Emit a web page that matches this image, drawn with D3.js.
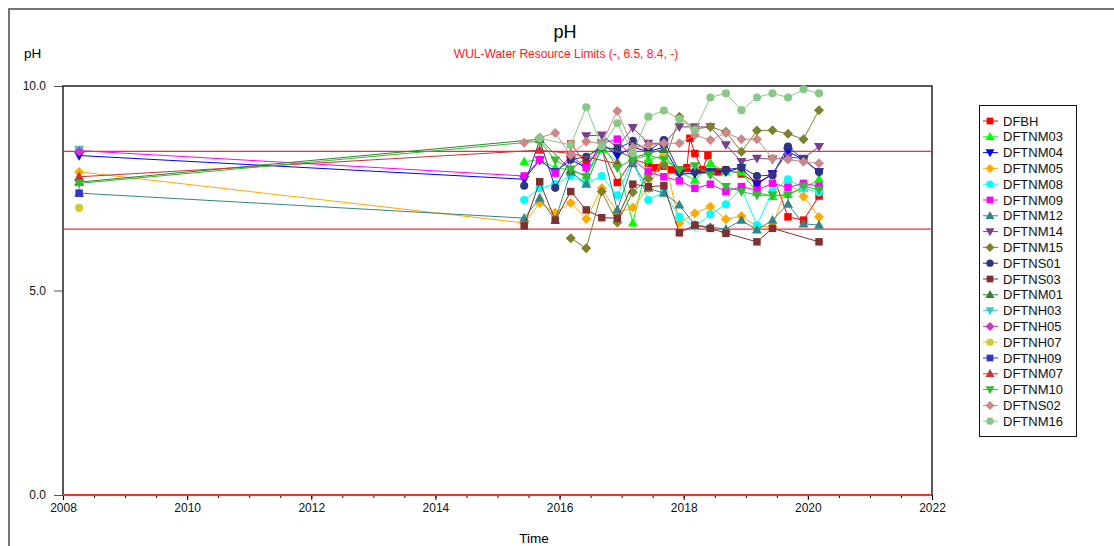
<!DOCTYPE html>
<html>
<head>
<meta charset="utf-8">
<script src="https://cdn.jsdelivr.net/npm/d3@7"></script>
<style>
  body { margin: 0; background: #fff; }
  svg { font-family: "Liberation Sans", Arial, sans-serif; }
</style>
</head>
<body>
<svg id="chart" width="1114" height="546"></svg>
<script>
// sample dates (decimal years): one 2008 sample, then quarterly from mid 2015
const dates = [2008.26, 2015.43, 2015.68, 2015.93, 2016.18, 2016.43, 2016.68, 2016.93, 2017.18, 2017.43, 2017.68,
  2017.93, 2018.18, 2018.43, 2018.68, 2018.93, 2019.18, 2019.43, 2019.68, 2019.93, 2020.18]

// DFBH was sampled more often, so it keeps its own dates
const dfbhDates = [2016.18, 2016.43, 2016.68, 2016.93, 2017.18, 2017.43, 2017.55, 2017.68, 2017.8, 2017.93, 2018.05,
  2018.1, 2018.18, 2018.3, 2018.39, 2018.55, 2018.68, 2018.93, 2019.18, 2019.43, 2019.68, 2019.93, 2020.18]
const DFBH = [8.58, 8.1, 8.45, 7.64, 8.2, 8.1, 8.0, 8.04, 7.95, 7.95, 8.0, 8.72, 8.35, 7.95, 8.3, 7.9, 7.95, 7.85, 7.62,
  7.85, 6.8, 6.72, 7.31]

const DFTNM03 = [null, 8.15, 8.2, 8.0, 7.95, 7.8, 8.45, 8.15, 6.65, 8.2, 8.3, 7.9, 7.7, 8.11, 7.9, 7.9, 7.4, 7.3, 7.35, 7.5, 7.72]
const DFTNM04 = [8.3, 7.72, 8.19, 7.9, 8.2, 8.0, 8.6, 8.3, 8.5, 8.4, 8.5, 7.85, 7.86, 7.9, 7.9, 8.0, 7.6, 7.85, 8.4, 8.2, 7.9]
const DFTNM05 = [7.9, 6.65, 7.14, 6.9, 7.14, 6.75, 7.5, 6.9, 7.03, 7.5, 8.31, 6.65, 6.89, 7.05, 6.74, 6.82, 6.56, 6.56, 7.65, 7.3, 6.8]
const DFTNM08 = [null, 7.21, 7.5, 7.6, 7.8, 7.62, 7.8, 7.33, 8.2, 7.21, 7.4, 6.8, 6.56, 6.86, 7.11, 7.5, 6.6, 7.42, 7.72, 7.5, 7.4]
const DFTNM09 = [8.42, 7.8, 8.2, 7.87, 8.3, 8.0, 8.6, 8.7, 8.2, 7.9, 7.78, 7.68, 7.5, 7.6, 7.42, 7.54, 7.45, 7.62, 7.52, 7.62, 7.55]
const DFTNM12 = [7.38, 6.77, 7.26, 6.72, 7.9, 7.6, 8.5, 6.97, 8.1, 7.5, 7.38, 7.09, 6.6, 6.55, 6.5, 6.72, 6.48, 6.72, 7.11, 6.63, 6.6]
const DFTNM14 = [null, null, null, null, null, 8.78, 8.8, 8.5, 8.98, 8.6, 8.6, 9.0, 9.0, 9.0, 8.56, 8.15, 8.23, 8.21, 8.26, 8.23, 8.52]
const DFTNM15 = [null, null, null, null, 6.28, 6.03, 7.42, 6.66, 7.4, 7.74, 8.07, 9.25, 8.95, 9.0, 8.88, 8.39, 8.91, 8.92, 8.83, 8.7, 9.41]
const DFTNS01 = [null, 7.56, 8.68, 7.51, 8.2, 8.27, 8.5, 8.46, 8.66, 8.4, 8.68, 7.9, 7.9, 7.9, 7.95, 8.01, 7.8, 7.82, 8.52, 8.2, 7.9]
const DFTNS03 = [null, 6.58, 7.66, 6.72, 7.42, 6.97, 6.78, 6.77, 7.6, 7.54, 7.56, 6.41, 6.6, 6.52, 6.4, null, 6.19, 6.52, null, null, 6.19]
const DFTNM01 = [7.65, null, 8.7, null, 7.95, null, 8.55, null, 8.25, null, 8.45, null, null, null, null, null, null, null, null, null, null]
const DFTNH03 = [8.45, null, null, null, null, null, null, null, null, null, null, null, null, null, null, null, null, null, null, null, null]
const DFTNH05 = [8.4, null, null, null, null, null, null, null, null, null, null, null, null, null, null, null, null, null, null, null, null]
const DFTNH07 = [7.02, null, null, null, null, null, null, null, null, null, null, null, null, null, null, null, null, null, null, null, null]
const DFTNH09 = [7.38, null, null, null, null, null, null, null, null, null, null, null, null, null, null, null, null, null, null, null, null]
const DFTNM07 = [7.78, null, 8.43, null, 8.35, null, null, 8.1, null, null, null, null, null, null, null, null, null, null, null, null, null]
const DFTNM10 = [7.62, null, 8.65, 8.19, 7.97, 7.78, 8.6, 8.0, 8.2, 8.31, 8.2, 7.95, 8.05, 7.82, 7.54, 7.42, 7.33, 7.33, 7.33, 7.55, 7.46]
const DFTNS02 = [null, 8.61, 8.74, 8.85, 8.31, 8.64, 8.6, 9.39, 8.5, 8.55, 8.6, 8.6, 8.8, 8.68, 8.85, 8.7, 8.7, 8.23, 8.2, 8.15, 8.11]
const DFTNM16 = [null, null, 8.72, null, 8.56, 9.48, 8.52, 9.09, 8.36, 9.25, 9.4, 9.19, 8.92, 9.72, 9.82, 9.41, 9.72, 9.82, 9.72, 9.92, 9.82]

const seriesNames = ['DFBH', 'DFTNM03', 'DFTNM04', 'DFTNM05', 'DFTNM08', 'DFTNM09', 'DFTNM12', 'DFTNM14', 'DFTNM15',
  'DFTNS01', 'DFTNS03', 'DFTNM01', 'DFTNH03', 'DFTNH05', 'DFTNH07', 'DFTNH09', 'DFTNM07', 'DFTNM10', 'DFTNS02', 'DFTNM16']
const seriesColors = ['#ff0000', '#00ff00', '#0000ff', '#ffaa00', '#00ffff', '#ff00ff', '#358585', '#7a3f8a', '#7f7f2e',
  '#2e3580', '#803030', '#338033', '#33cccc', '#cc33cc', '#cccc33', '#3333cc', '#cc3333', '#33bb33', '#cc8888', '#88c888']
const seriesValues = [DFBH, DFTNM03, DFTNM04, DFTNM05, DFTNM08, DFTNM09, DFTNM12, DFTNM14, DFTNM15, DFTNS01, DFTNS03,
  DFTNM01, DFTNH03, DFTNH05, DFTNH07, DFTNH09, DFTNM07, DFTNM10, DFTNS02, DFTNM16]

const limits = [0, 6.5, 8.4]
const xTicks = [2008, 2010, 2012, 2014, 2016, 2018, 2020, 2022]
const yTicks = [0, 5, 10]

// marker shapes repeat every 5 series
const shapes = ['square', 'up', 'down', 'diamond', 'circle']

var svg = d3.select('#chart')
var plotLeft = 63, plotRight = 932, plotTop = 86, plotBottom = 495

var x = d3.scaleLinear().domain([2008, 2022]).range([plotLeft, plotRight])
var y = d3.scaleLinear().domain([0, 10]).range([plotBottom, plotTop])

var series = seriesNames.map((name, i) => {
  var ds = name === 'DFBH' ? dfbhDates : dates
  var pts = seriesValues[i].map((v, j) => ({ t: ds[j], v: v })).filter((d) => d.v != null)
  return { name: name, color: seriesColors[i], shape: shapes[i % 5], points: pts }
})

function symbolPath(shape) {
  if (shape === 'square') return d3.symbol(d3.symbolSquare, 56)()
  if (shape === 'circle') return d3.symbol(d3.symbolCircle, 52)()
  if (shape === 'diamond') return 'M0,-5L5,0L0,5L-5,0Z'
  if (shape === 'up') return 'M0,-5.2L5,3.6L-5,3.6Z'
  return 'M0,5.2L5,-3.6L-5,-3.6Z'
}

// page frame (left and top edges only are in view)
svg.append('path')
  .attr('d', 'M9,546V9H1114')
  .attr('fill', 'none')
  .attr('stroke', '#777')
  .attr('stroke-width', 2)

svg.append('text')
  .attr('x', 565).attr('y', 38)
  .attr('text-anchor', 'middle')
  .style('font-size', '18px')
  .text('pH')

svg.append('text')
  .attr('x', 566).attr('y', 58)
  .attr('text-anchor', 'middle')
  .style('font-size', '12px')
  .attr('fill', '#ff2020')
  .text('WUL-Water Resource Limits (-, 6.5, 8.4, -)')

svg.append('text')
  .attr('x', 24).attr('y', 58)
  .style('font-size', '13.5px')
  .text('pH')

svg.append('text')
  .attr('x', 534).attr('y', 543)
  .attr('text-anchor', 'middle')
  .style('font-size', '13.5px')
  .text('Time')

// axes
var minor = svg.append('g')
  .attr('transform', `translate(0,${plotBottom})`)
  .call(d3.axisBottom(x).tickValues(d3.range(2008.5, 2022, 0.5)).tickSize(3).tickFormat(''))
minor.select('.domain').remove()

var xAxis = svg.append('g')
  .attr('transform', `translate(0,${plotBottom})`)
  .call(d3.axisBottom(x).tickValues(xTicks).tickSize(5).tickPadding(3).tickFormat(d3.format('d')))
xAxis.select('.domain').remove()
xAxis.selectAll('text').style('font-size', '12px').attr('fill', '#111')

var yAxis = svg.append('g')
  .attr('transform', `translate(${plotLeft},0)`)
  .call(d3.axisLeft(y).tickValues(yTicks).tickSize(9).tickPadding(8).tickFormat(d3.format('.1f')))
yAxis.select('.domain').remove()
yAxis.selectAll('text').style('font-size', '12px').attr('fill', '#111')
yAxis.selectAll('line').attr('stroke', '#555')

svg.append('rect')
  .attr('x', plotLeft).attr('y', plotTop)
  .attr('width', plotRight - plotLeft).attr('height', plotBottom - plotTop)
  .attr('fill', 'none')
  .attr('stroke', '#222')
  .attr('stroke-width', 1.5)

// limit lines
svg.selectAll('line.limit')
  .data(limits)
  .enter()
  .append('line')
  .attr('class', 'limit')
  .attr('x1', plotLeft).attr('x2', plotRight)
  .attr('y1', (d) => y(d)).attr('y2', (d) => y(d))
  .attr('stroke', '#ff2a2a')
  .attr('stroke-width', (d) => d === 0 ? 2 : 1.2)

var line = d3.line().x((d) => x(d.t)).y((d) => y(d.v))

var groups = svg.selectAll('g.series')
  .data(series)
  .enter()
  .append('g')
  .attr('class', 'series')

groups.append('path')
  .attr('d', (d) => line(d.points))
  .attr('fill', 'none')
  .attr('stroke', (d) => d.color)
  .attr('stroke-width', 1)

groups.each(function(s) {
  d3.select(this).selectAll('path.mark')
    .data(s.points)
    .enter()
    .append('path')
    .attr('class', 'mark')
    .attr('transform', (d) => `translate(${x(d.t)},${y(d.v)})`)
    .attr('d', symbolPath(s.shape))
    .attr('fill', s.color)
})

// legend
svg.append('rect')
  .attr('x', 979.5).attr('y', 105.5)
  .attr('width', 97).attr('height', 331)
  .attr('fill', '#fff')
  .attr('stroke', '#111')

var items = svg.selectAll('g.legend-item')
  .data(series)
  .enter()
  .append('g')
  .attr('class', 'legend-item')
  .attr('transform', (d, i) => `translate(990,${121 + i * 15.8})`)

items.append('line')
  .attr('x1', -7).attr('x2', 8)
  .attr('stroke', (d) => d.color)

items.append('path')
  .attr('d', (d) => symbolPath(d.shape))
  .attr('transform', 'scale(0.9)')
  .attr('fill', (d) => d.color)

items.append('text')
  .attr('x', 13).attr('y', 4.5)
  .style('font-size', '13px')
  .attr('fill', '#111')
  .text((d) => d.name)
</script>
</body>
</html>
